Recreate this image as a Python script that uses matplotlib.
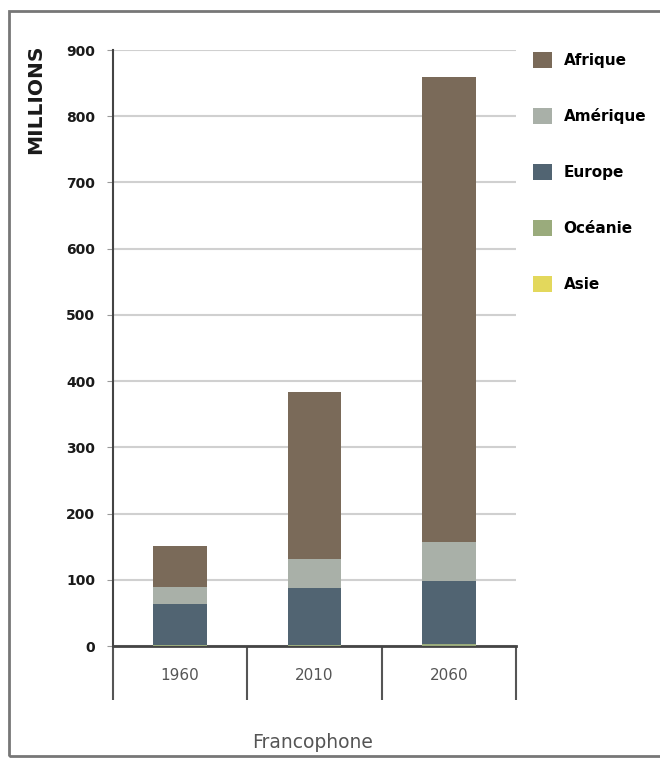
import numpy as np
import matplotlib
matplotlib.use('Agg')
import matplotlib.pyplot as plt
from matplotlib.patches import Rectangle

# valeurs (millions)
annees   = ['1960', '2010', '2060']
asie     = [0.5, 0.5, 0.5]
oceanie  = [1.0, 1.5, 2.0]
europe   = [62, 85, 95]
amerique = [25, 44, 60]
afrique  = [63, 252, 701]

series = [('Asie', asie, '#e3d85c'),
          ('Océanie', oceanie, '#9aab7c'),
          ('Europe', europe, '#516472'),
          ('Amérique', amerique, '#a9b0a8'),
          ('Afrique', afrique, '#7a6a59')]

fig = plt.figure(figsize=(6.6, 7.58), dpi=100)
ax = fig.add_axes([113/660, 1-646/758, 403/660, 596/758])

x = np.arange(len(annees))
bas = np.zeros(len(annees))
handles = {}
for nom, vals, col in series:
	b = ax.bar(x, vals, width=0.4, bottom=bas, color=col, zorder=3)
	handles[nom] = b
	bas = bas + np.array(vals)

ax.set_xlim(-0.5, 2.5)
ax.set_ylim(0, 900)
ax.set_yticks(np.arange(0, 901, 100))
ax.yaxis.grid(True, color='#d0d0d0', lw=1.5, zorder=0)
for s in ['top', 'right']:
	ax.spines[s].set_visible(False)
ax.spines['left'].set_color('#444444')
ax.spines['left'].set_linewidth(1.5)
ax.spines['bottom'].set_color('#444444')
ax.spines['bottom'].set_linewidth(2)
ax.tick_params(axis='y', length=4, color='#999999', pad=9, labelsize=10, labelcolor='#1a1a1a')
for t in ax.get_yticklabels():
	t.set_fontweight('bold')

# etiquettes des annees + separateurs
ax.set_xticks(x)
ax.set_xticklabels(annees, fontsize=11, color='#555555')
ax.set_xticks([-0.5, 0.5, 1.5, 2.5], minor=True)
ax.tick_params(axis='x', which='major', length=0, pad=16)
ax.tick_params(axis='x', which='minor', length=39, width=1.5, color='#555555')

fig.text(36/660, 1-44/758, 'MILLIONS', rotation=90, fontsize=14.5, fontweight='bold',
	ha='center', va='top', color='#1a1a1a')
fig.text(313/660, 1-742/758, 'Francophone', fontsize=13.5, color='#555555', ha='center', va='center')

ordre = ['Afrique', 'Amérique', 'Europe', 'Océanie', 'Asie']
leg = fig.legend([handles[n] for n in ordre], ordre, loc='upper left',
	bbox_to_anchor=(533/660, 1-52/758), frameon=False, borderpad=0, borderaxespad=0,
	handlelength=1.25, handleheight=1.25, handletextpad=0.75, labelspacing=2.6,
	prop={'size': 11, 'weight': 'bold'})

# cadre
fig.patches.append(Rectangle((9/660, 2/758), 1.0, 1-13/758, transform=fig.transFigure,
	fill=False, edgecolor='#777777', lw=2))

fig.savefig('out.png', dpi=100)
